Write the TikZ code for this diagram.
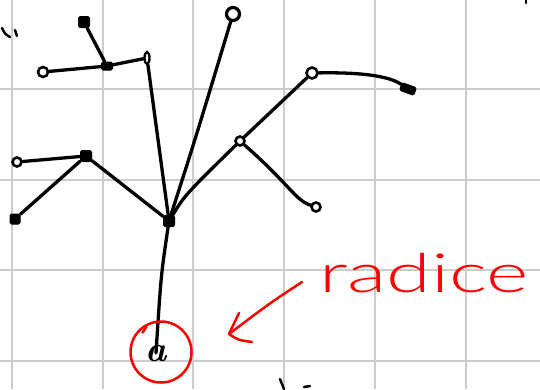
\documentclass[tikz,border=0pt]{standalone}
\usepackage{fontspec}
\newfontfamily\handfont{Lato Light}
\usetikzlibrary{shapes.geometric}
\begin{document}
\begin{tikzpicture}[x=1pt,y=-1pt,
  gridline/.style={draw=black!20,line width=2pt},
  branch/.style={draw=black,line width=3.3pt,line cap=round,line join=round},
  blob/.style={fill=black,draw=black,line width=1pt,minimum size=8pt,inner sep=0pt,rounded corners=1.5pt},
  ring/.style={draw=black,line width=2.6pt,circle,minimum size=9pt,inner sep=0pt},
  redpen/.style={draw=red,line width=2.5pt,line cap=round,line join=round},
  scrib/.style={draw=black,line width=2.5pt,line cap=round}]
\useasboundingbox (0,0) rectangle (540,389);
\fill[white] (0,0) rectangle (540,389);

% squared paper
\foreach \gx in {12,103,193,284,375,466} \draw[gridline] (\gx,0) -- (\gx,389);
\foreach \gy in {89,180,270,361} \draw[gridline] (0,\gy) -- (540,\gy);

% tree nodes
\node[font=\bfseries\itshape\fontsize{36}{36}\selectfont,inner sep=0pt] (R) at (156,353) {a};
\node[blob,minimum size=11pt] (H) at (169,221) {};
\node[draw=black,line width=2.4pt,ellipse,minimum width=5pt,minimum height=12pt,inner sep=0pt] (N1) at (147,58) {};
\node[blob,minimum width=11pt,minimum height=8pt] (N2) at (107,66) {};
\node[ring,minimum size=10pt] (N3) at (43,72) {};
\node[blob,minimum size=11pt] (N4) at (84,22) {};
\node[ring,minimum size=13pt,line width=3.2pt] (N5) at (233,14) {};
\node[blob,minimum size=11pt] (N6) at (86,156) {};
\node[ring] (N7) at (17,162) {};
\node[blob,minimum size=10pt] (N8) at (15,219) {};
\node[ring] (N9) at (240,141) {};
\node[ring,minimum size=11pt] (N10) at (312,73) {};
\node[blob,minimum width=15pt,minimum height=8pt,rotate=-20] (N11) at (408,89) {};
\node[ring,minimum size=9pt] (N12) at (316,207) {};

% branches
\draw[branch] (R.center) .. controls (161,275) .. (H);
\draw[branch] (H) -- (N1);
\draw[branch] (H) .. controls (195,140) .. (N5);
\draw[branch] (H) .. controls (185,195) .. (N9);
\draw[branch] (N9) -- (N10);
\draw[branch] (N9) .. controls (290,185) and (295,200) .. (N12);
\draw[branch] (N10) .. controls (370,72) and (392,78) .. (N11);
\draw[branch] (H) -- (N6);
\draw[branch] (N6) -- (N8);
\draw[branch] (N6) -- (N7);
\draw[branch] (N1) -- (N2);
\draw[branch] (N2) -- (N3);
\draw[branch] (N2) -- (N4);

% red annotation
\node[redpen,circle,minimum size=61pt,inner sep=0pt] (C) at (161,352) {};
\draw[redpen] (C.north west) ++(4,3) coordinate (tickA) -- ++(4,-6) coordinate (tickB);
\coordinate (tip) at (229,334);
\coordinate (tail) at (302,282);
\draw[redpen] (tail) .. controls (270,303) .. (tip);
\draw[redpen] (tip) -- (239,313);
\draw[redpen] (tip) .. controls (238,340) .. (252,342);
\node[text=red,font=\handfont\fontsize{54}{56}\selectfont,anchor=base,inner sep=0pt] (lbl) at (424,292) {\scalebox{1.5}[1]{radice}};

% stray pen marks at the edges
\draw[scrib] (2,28) .. controls (5,34) .. (10,37);
\draw[scrib] (15,30) -- (17,36);
\draw[scrib] (526,0) -- (526,3);
\draw[scrib] (280,379) -- (284,389);
\draw[scrib] (304,387) -- (310,386);
\end{tikzpicture}
\end{document}
